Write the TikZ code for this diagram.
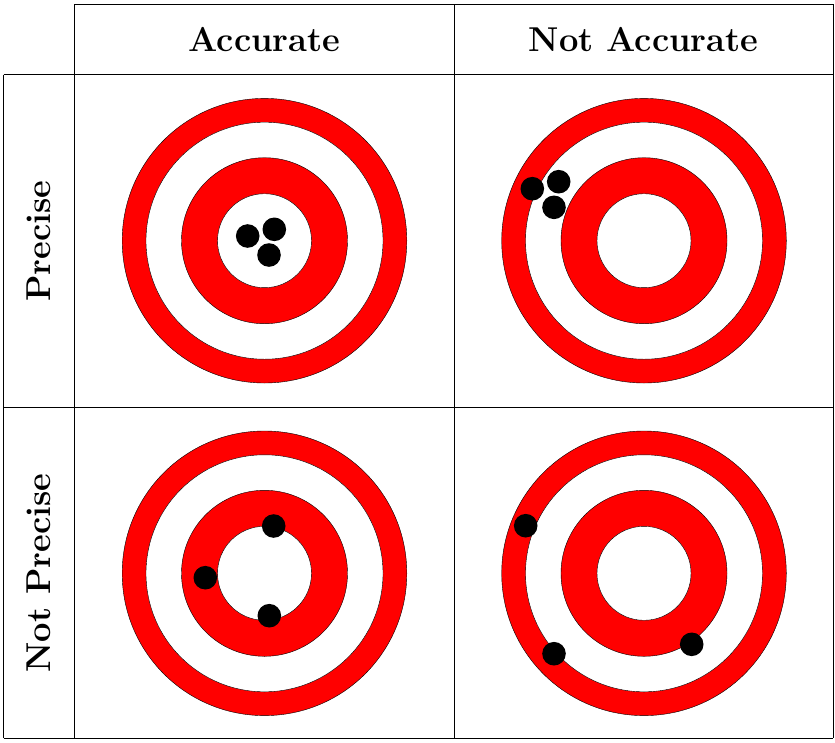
\documentclass[tikz,border=0pt]{standalone}
\begin{document}
\begin{tikzpicture}[x=1pt,y=-1pt,
  gridline/.style={line width=0.9pt, draw=black},
  ringline/.style={line width=0.4pt, draw=black},
  hdr/.style={font=\fontsize{34.5}{40}\selectfont\bfseries, inner sep=0pt},
  dot/.style={fill=black}]
\useasboundingbox (0,0) rectangle (835,742);
% grid
\draw[gridline] (74,4) -- (833,4);
\draw[gridline] (3.5,74.5) -- (833,74.5);
\draw[gridline] (3.5,407) -- (833,407);
\draw[gridline] (3.5,738) -- (833,738);
\draw[gridline] (3.5,74.5) -- (3.5,738);
\draw[gridline] (74,4) -- (74,738);
\draw[gridline] (454,4) -- (454,738);
\draw[gridline] (833,4) -- (833,738);
% headers
\node[hdr] (acc) at (264.5,40) {Accurate};
\node[hdr] (nacc) at (643.5,40) {Not Accurate};
\node[hdr, rotate=90] (prec) at (39,241) {Precise};
\node[hdr, rotate=90] (nprec) at (39,573) {Not Precise};
% targets
\foreach \cx/\cy in {264.5/240.7, 644/240.7, 264.5/573.3, 644/573.3}{
  \filldraw[ringline, fill=red] (\cx,\cy) circle[radius=142.3pt];
  \filldraw[ringline, fill=white] (\cx,\cy) circle[radius=118.5pt];
  \filldraw[ringline, fill=red] (\cx,\cy) circle[radius=83pt];
  \filldraw[ringline, fill=white] (\cx,\cy) circle[radius=47pt];
}
% shots
\foreach \x/\y in {247.7/236, 274.3/229.3, 269/255,
                   532.3/188.7, 558.7/181.7, 554/207.3,
                   273.7/526, 205.3/577.7, 269.3/615.7,
                   525.7/525.7, 554/653.7, 691.7/644.3}{
  \fill[dot] (\x,\y) circle[radius=11.8pt];
}
\end{tikzpicture}
\end{document}
